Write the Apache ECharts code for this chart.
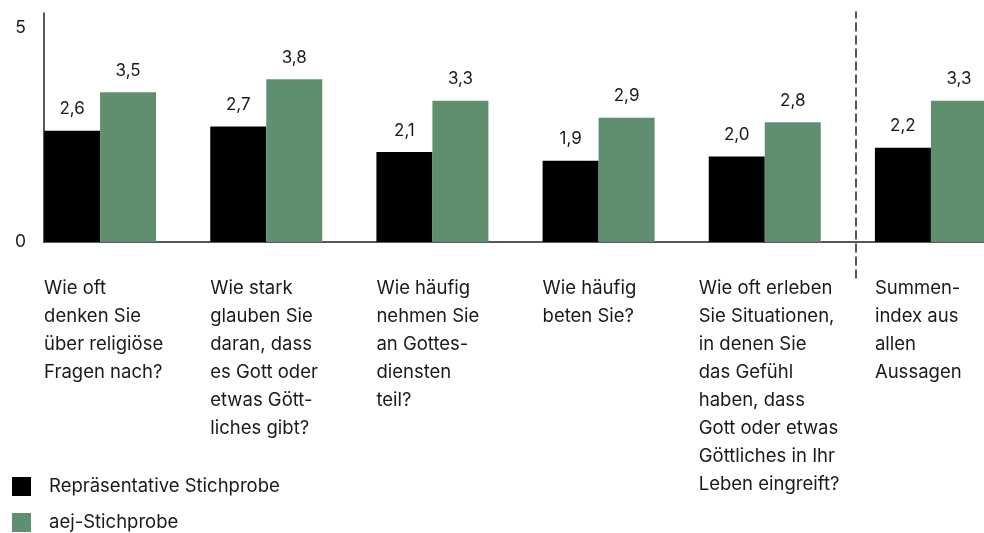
<!DOCTYPE html>
<html><head><meta charset="utf-8">
<script src="https://cdn.jsdelivr.net/npm/echarts@6/dist/echarts.min.js"></script>
<style>html,body{margin:0;padding:0;background:#fff}#c{width:984px;height:533px}</style>
</head><body><div id="c"></div>
<script>
const categories = [
  "Wie oft\ndenken Sie\nüber religiöse\nFragen nach?",
  "Wie stark\nglauben Sie\ndaran, dass\nes Gott oder\netwas Gött-\nliches gibt?",
  "Wie häufig\nnehmen Sie\nan Gottes-\ndiensten\nteil?",
  "Wie häufig\nbeten Sie?",
  "Wie oft erleben\nSie Situationen,\nin denen Sie\ndas Gefühl\nhaben, dass\nGott oder etwas\nGöttliches in Ihr\nLeben eingreift?",
  "Summen-\nindex aus\nallen\nAussagen"
];
const representative = [2.6, 2.7, 2.1, 1.9, 2.0, 2.2];
const aej = [3.5, 3.8, 3.3, 2.9, 2.8, 3.3];
const seriesNames = ["Repräsentative Stichprobe", "aej-Stichprobe"];
const yTicks = [0, 5];
const yMax = 5.35;

const FONT = 'Inter, "Noto Sans", sans-serif';
const TXT = '#1a1a1a';
const fmt = p => p.value.toFixed(1).replace('.', ',');
const labelStyle = w => ({width: w, align: 'left', fontSize: 18.5, lineHeight: 28, fontFamily: FONT, color: TXT});

const chart = echarts.init(document.getElementById('c'), null, {renderer: 'canvas'});
chart.setOption({
  animation: false,
  textStyle: {fontFamily: FONT, color: TXT},
  grid: [
    {left: 17, width: 997, top: 13, bottom: 291, outerBoundsMode: 'none', containLabel: false},
    {left: 44, right: 0, top: 13, bottom: 291, outerBoundsMode: 'none', containLabel: false},
    {left: 856, width: 1, top: 12, bottom: 255, outerBoundsMode: 'none', containLabel: false}
  ],
  legend: {
    orient: 'vertical', left: 12, top: 477, padding: 0,
    itemWidth: 19, itemHeight: 19, itemGap: 17, icon: 'rect',
    textStyle: {fontSize: 18.5, color: TXT, fontFamily: FONT, padding: [0, 0, 0, 13]},
    data: seriesNames
  },
  xAxis: [
    {
      type: 'category', gridIndex: 0, data: categories,
      axisLine: {show: false}, axisTick: {show: false},
      axisLabel: {
        interval: 0, margin: 32, align: 'center',
        formatter: (v, i) => {
          const key = v.split('\n').length > 6 ? 'w' : 'a';
          return v.split('\n').map(l => '{' + key + '|' + l + '}').join('\n');
        },
        rich: {a: labelStyle(112), w: labelStyle(132)}
      }
    },
    {
      type: 'value', gridIndex: 1, min: 0, max: 1,
      axisLine: {show: true, lineStyle: {color: '#222', width: 1.5}},
      axisTick: {show: false}, axisLabel: {show: false}, splitLine: {show: false}
    },
    {type: 'value', gridIndex: 2, min: 0, max: 1, show: false}
  ],
  yAxis: [
    {type: 'value', gridIndex: 0, min: 0, max: yMax, show: false},
    {
      type: 'value', gridIndex: 1, min: 0, max: yMax, interval: 5,
      axisLine: {show: true, lineStyle: {color: '#222', width: 1.5}},
      axisTick: {show: false}, splitLine: {show: false},
      axisLabel: {customValues: yTicks, fontSize: 17.5, margin: 18, color: TXT, fontFamily: FONT,
                  verticalAlign: 'middle', padding: [0, 0, 12, 0]}
    },
    {
      type: 'value', gridIndex: 2, min: 0, max: 1,
      axisLine: {show: true, lineStyle: {color: '#222', width: 1.5, type: [8, 5]}},
      axisTick: {show: false}, axisLabel: {show: false}, splitLine: {show: false}
    }
  ],
  series: [
    {
      name: seriesNames[0], type: 'bar', xAxisIndex: 0, yAxisIndex: 0,
      data: representative, barWidth: 56, barGap: '0%',
      itemStyle: {color: '#000000'},
      label: {show: true, position: 'top', distance: 13, fontSize: 17, color: TXT, fontFamily: FONT, formatter: fmt}
    },
    {
      name: seriesNames[1], type: 'bar', xAxisIndex: 0, yAxisIndex: 0,
      data: aej, barWidth: 56, barGap: '0%',
      itemStyle: {color: '#5f8f6f'},
      label: {show: true, position: 'top', distance: 13, fontSize: 17, color: TXT, fontFamily: FONT, formatter: fmt}
    }
  ]
});
</script>
</body></html>
